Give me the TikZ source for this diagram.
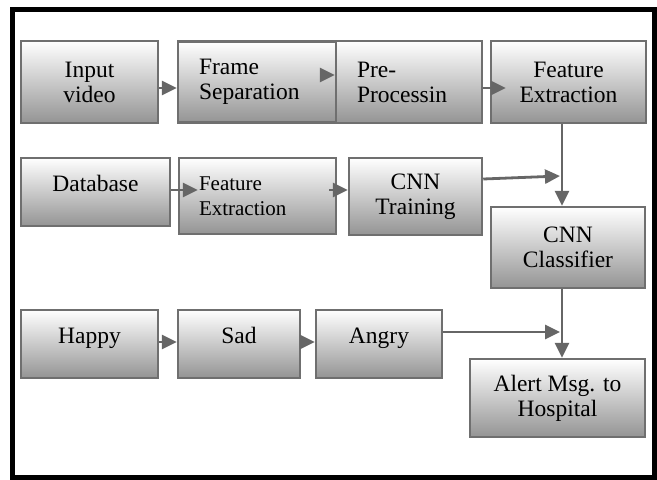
\documentclass[tikz,border=0pt]{standalone}
\usepackage{fontspec}
\setmainfont{Liberation Serif}
\usetikzlibrary{arrows.meta}
\definecolor{boxline}{HTML}{6F6F6F}
\definecolor{arrowgray}{HTML}{666666}

\begin{document}
\begin{tikzpicture}[x=1pt,y=-1pt,
  box/.style={draw=boxline, line width=2.5pt, top color=white, bottom color=black!42,
    inner sep=0pt, font=\fontsize{23.5}{25}\selectfont, align=center},
  oneline/.style={text depth=17pt},
  lbox/.style={box, align=left, inner xsep=21pt, text width=#1},
  conn/.style={draw=arrowgray, line width=2.8pt, -{Triangle[length=15pt,width=14pt]}}]
\useasboundingbox (0,0) rectangle (657,480);
\draw[line width=5pt] (12.5,9) rectangle (654.5,477.5);

\node[box, minimum width=137pt, minimum height=82pt] (inp) at (89.5,82) {Input\\video};
\node[lbox=116pt, minimum width=158pt, minimum height=81pt] (frame) at (257,82) {Frame\\Separation};
\node[lbox=104pt, minimum width=146pt, minimum height=82pt] (pre) at (409,82) {Pre-\\Processin};
\node[box, minimum width=155pt, minimum height=82pt] (feat) at (568.5,82) {Feature\\Extraction};

\node[box, oneline, minimum width=149pt, minimum height=68pt] (db) at (95.5,192) {Database};
\node[lbox=117pt, inner xsep=20pt, font=\fontsize{21}{25}\selectfont, minimum width=157pt, minimum height=76pt] (fe2) at (257.5,196) {Feature\\Extraction};
\node[box, minimum width=133pt, minimum height=77pt] (train) at (415.5,196.5) {CNN\\Training};
\node[box, minimum width=154pt, minimum height=81pt] (cls) at (568,247.5) {CNN\\Classifier};

\node[box, oneline, minimum width=137pt, minimum height=68pt] (hap) at (89.5,344) {Happy};
\node[box, oneline, minimum width=122pt, minimum height=68pt] (sad) at (239,344) {Sad};
\node[box, oneline, minimum width=126pt, minimum height=68pt] (ang) at (379,344) {Angry};
\node[box, minimum width=175pt, minimum height=78pt] (alert) at (557.5,398) {Alert Msg. to\\Hospital};

\coordinate (spine) at (562,0);
\coordinate (j1) at (560,176);
\coordinate (j2) at (560,332);

\draw[conn] ([yshift=-6pt]inp.east) -- ([yshift=-6pt]frame.west);
\draw[conn] ([shift={(-16pt,7pt)}]frame.east) -- ([yshift=7pt]pre.west);
\draw[conn] ([yshift=-6pt]pre.east) -- ([shift={(16pt,-6pt)}]feat.west);
\draw[conn] ([yshift=2pt]db.east) -- ([shift={(20pt,6pt)}]fe2.west);
\draw[conn] ([shift={(-8pt,6pt)}]fe2.east) -- ([yshift=6.5pt]train.west);
\draw[conn] ([yshift=17.5pt]train.east) -- (j1);
\draw[conn] (feat.south -| spine) -- (cls.north -| spine);
\draw[conn] ([yshift=2pt]hap.east) -- ([yshift=2pt]sad.west);
\draw[conn] ([yshift=2pt]sad.east) -- ([yshift=2pt]ang.west);
\draw[conn] ([yshift=12pt]ang.east) -- (j2);
\draw[conn] (cls.south -| spine) -- (alert.north -| spine);
\end{tikzpicture}
\end{document}
